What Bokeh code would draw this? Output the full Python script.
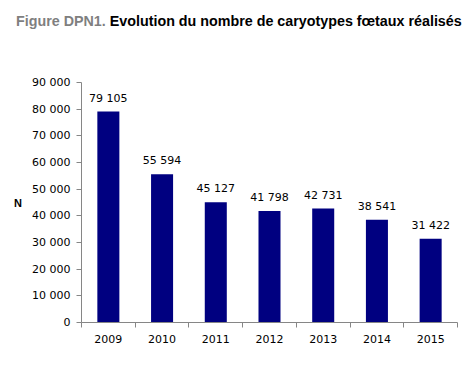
from bokeh.plotting import figure
from bokeh.models import ColumnDataSource, FixedTicker, Range1d, Div
from bokeh.layouts import column
from bokeh.embed import file_html
from bokeh.resources import INLINE
from bokeh.core.properties import value

years = ["2009", "2010", "2011", "2012", "2013", "2014", "2015"]
counts = [79105, 55594, 45127, 41798, 42731, 38541, 31422]
value_labels = ["79 105", "55 594", "45 127", "41 798", "42 731", "38 541", "31 422"]
y_ticks = [0, 10000, 20000, 30000, 40000, 50000, 60000, 70000, 80000, 90000]
y_tick_labels = ["0", "10 000", "20 000", "30 000", "40 000", "50 000", "60 000", "70 000", "80 000", "90 000"]
title_prefix = "Figure DPN1."
title_main = "Evolution du nombre de caryotypes fœtaux réalisés"
y_label = "N"

xs = list(range(len(years)))
src = ColumnDataSource(dict(x=xs, y=counts, lab=value_labels))

DIV_H = 44
p = figure(width=464, height=364 - DIV_H, output_backend="svg", toolbar_location=None,
           x_range=Range1d(-0.5, len(years) - 0.5), y_range=Range1d(0, 90000),
           min_border_left=81, min_border_right=7, min_border_top=82 - DIV_H, min_border_bottom=42)
p.outline_line_color = None
p.grid.visible = False

p.vbar(x="x", top="y", width=0.41, source=src, fill_color="#000080", line_color=None)
p.text(x="x", y="y", text="lab", source=src, text_align="center", text_baseline="bottom",
       y_offset=-7, text_font=value("DejaVu Sans"), text_font_size="11px", text_color="#000000")

axis_color = "#868686"
xa = p.xaxis[0]
xa.ticker = FixedTicker(ticks=xs, minor_ticks=[i - 0.5 for i in range(len(years) + 1)])
xa.major_label_overrides = {i: y for i, y in enumerate(years)}
xa.major_tick_out = 0
xa.major_tick_in = 0
xa.minor_tick_out = 5
xa.minor_tick_in = 0
xa.minor_tick_line_color = axis_color
xa.axis_line_color = axis_color
xa.major_label_standoff = 7
xa.major_label_text_font = "DejaVu Sans"
xa.major_label_text_font_size = "11px"
xa.major_label_text_color = "#000000"

ya = p.yaxis[0]
ya.ticker = FixedTicker(ticks=y_ticks)
ya.major_label_overrides = {t: l for t, l in zip(y_ticks, y_tick_labels)}
ya.major_tick_out = 5
ya.major_tick_in = 0
ya.minor_tick_line_color = None
ya.major_tick_line_color = axis_color
ya.axis_line_color = axis_color
ya.major_label_standoff = 6
ya.major_label_text_font = "DejaVu Sans"
ya.major_label_text_font_size = "11px"
ya.major_label_text_color = "#000000"
ya.axis_label = y_label
ya.axis_label_orientation = "horizontal"
ya.axis_label_text_font = "Liberation Sans"
ya.axis_label_text_font_style = "bold"
ya.axis_label_text_font_size = "11px"
ya.axis_label_text_color = "#000000"
ya.axis_label_standoff = 7

title_html = (
    '<div style="padding:13px 0 0 16px; font-family:\'Liberation Sans\'; font-weight:bold; '
    'font-size:14.3px; line-height:16px; white-space:nowrap; color:#000000">'
    f'<span style="color:#7f7f7f">{title_prefix}</span> {title_main}</div>'
)
div = Div(text=title_html, width=464, height=DIV_H, margin=(0, 0, 0, 0))

layout = column(div, p, spacing=0)
open("out.html", "w").write(file_html(layout, INLINE))
